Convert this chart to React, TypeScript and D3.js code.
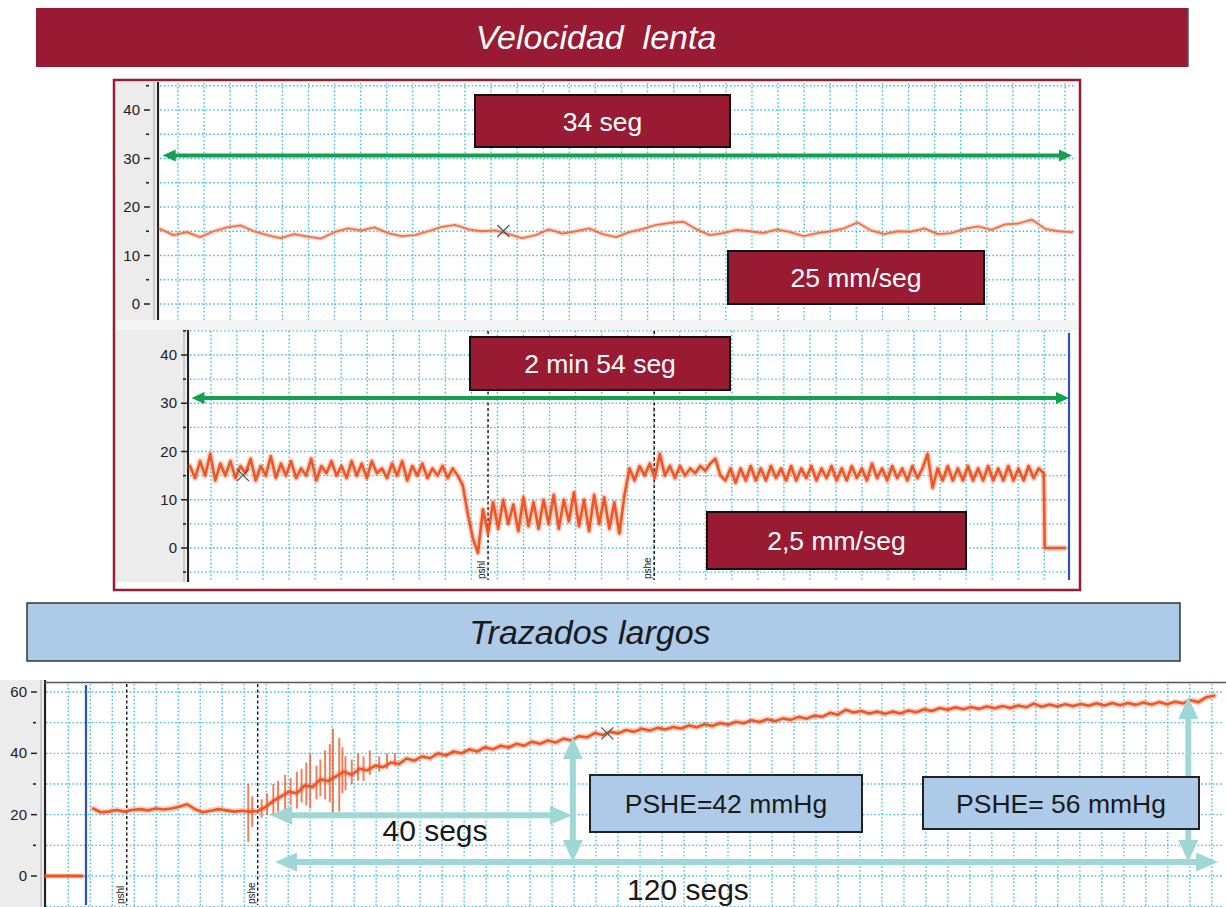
import React from 'react';
import * as d3 from 'd3';

// top strip, 25 mm/seg: one value every 0.5 s (mmHg)
const topTrace = [
  15.5, 14.2, 14.8, 13.8, 15.0, 15.8, 16.2, 15.0, 14.2, 13.6, 14.4, 13.9, 13.5, 14.8, 15.6, 15.2,
  15.8, 14.6, 14.0, 14.2, 15.0, 15.9, 16.3, 15.4, 15.0, 15.2, 14.4, 13.6, 14.2, 15.4, 14.5, 15.0,
  15.6, 14.4, 13.8, 14.8, 15.5, 16.3, 16.7, 17.0, 15.4, 14.2, 14.6, 15.3, 15.0, 14.6, 15.4, 14.8,
  14.0, 14.6, 15.0, 15.6, 16.8, 15.2, 14.4, 15.0, 14.9, 15.6, 14.4, 14.6, 15.5, 16.0, 15.3, 16.4,
  16.6, 17.4, 15.5, 15.0, 14.8,
];

// middle strip, 2,5 mm/seg: one value per second
const midBasal = [
  17, 14.5, 18, 15, 19.5, 14, 17.5, 15, 18, 14.5, 17, 15.5, 18.5, 14, 17, 15, 19, 14.5, 17.5, 15,
  18, 14.5, 16.5, 15, 18.5, 14, 17, 15.5, 18, 15, 17, 14.5, 18, 15, 17.5, 14.5, 18, 15.5, 16.5, 14.5,
  17.5, 15, 18, 14, 17, 15, 17.5, 14.5, 16.5, 15, 17, 14.5, 16.5, 15,
];
const midPshl = [
  13, 7, 2, -1, 8, 3, 9.5, 4, 10, 5, 9, 3.5, 10.5, 4.5, 9.5, 4, 10, 5, 11, 4, 10, 5.5, 11.5, 4.5,
  10, 3.5, 11, 5, 10.5, 4, 9.5, 3, 11,
];
const midPshe = [
  16.5, 14, 17, 15, 17.5, 14.5, 19.5, 15, 17, 14.5, 17, 15, 16.5, 15.5, 17, 16, 17.5, 18.5, 15, 14,
  16.5, 13.5, 16.5, 14, 17, 14, 16.5, 14, 17, 14.5, 16.5, 14, 17, 14, 16.5, 14.5, 17, 14, 16.5, 14.5,
  17, 14, 16.5, 14, 17, 14.5, 16.5, 14, 17.5, 14.5, 16.5, 14, 17, 14.5, 16.5, 14, 17, 14.5, 16.5, 19.5,
  12.5, 16.5, 14, 17, 14, 16.5, 14, 17, 14, 16.5, 14, 17, 14, 16.5, 14, 17, 14, 16.5, 14, 17,
  14.5, 16.5, 15.5,
];
const midEnd = [0, 0, 0, 0, 0];

// long strip: zero before the catheter, then one value per second from t = 6 s
const longPre: [number, number][] = [[0, 0], [4.6, 0]];
const longStartT = 6;
const longTrace = [
  22, 20.8, 21, 21.5, 21, 21.5, 21.8, 21.4, 22, 21.7, 22, 22.6, 23.4, 21.8, 20.8, 21.3, 21.8, 21.4,
  21, 21.3, 21, 21.2, 22.5,
  24.5, 26, 27.5, 27, 29.5, 29, 31.5, 31, 32.5, 34, 33, 35, 34.5, 36, 35.5, 37, 36.5,
  38.3, 37.6, 39, 38.4, 40, 39.3, 40.6, 40, 41.3, 40.6, 42, 41.3, 42.5, 41.9, 43.1, 42.5, 43.8, 43.1,
  44.2, 43.5, 44.8, 44.2, 45.6, 45.2, 46.6, 46, 47, 46.5, 47.6, 47, 48, 47.4, 48.3, 47.8, 48.6, 48.1,
  49.1, 48.5, 49.5, 48.9, 49.9, 49.3, 50.3, 49.8, 50.8, 50.2, 51.1, 50.5, 51.4, 50.9, 51.9, 51.3,
  52.3, 51.9, 53.2, 52.6, 54.2, 53.3, 53.8, 53, 53.6, 52.9, 53.6, 53, 54, 53.4, 54.4, 53.8, 54.8,
  54.2, 55, 54.4, 55.1, 54.5, 55.3, 54.7, 55.4, 54.8, 55.6, 55, 56.2, 55.2, 55.9, 55.3, 56, 55.4,
  56.1, 55.5, 56.3, 55.6, 56.4, 55.7, 56.4, 55.8, 56.6, 55.9, 56.7, 56, 56.8, 56.3, 57.3, 56.7,
  58.3, 58.8,
];
// artefact spikes on the long strip: [time s, low, high]
const longSpikes: [number, number, number][] = [
  [25.8, 11, 30], [26.3, 16, 26], [27.5, 19, 25], [28.2, 20, 27], [29, 20, 30], [29.6, 21, 31],
  [30.5, 18, 33], [31.2, 23, 32], [32, 22, 34], [32.6, 24, 35], [33.2, 23, 37], [33.7, 22, 40],
  [34.5, 25, 36], [35, 26, 38], [35.6, 25, 41], [36.2, 24, 43], [36.6, 19, 48], [37.4, 21, 45],
  [37.8, 27, 42], [38.2, 28, 39], [39, 30, 38], [39.8, 31, 40], [40.5, 31, 39], [41.3, 33, 41],
  [42.5, 34, 39], [43.5, 35, 40], [44.5, 36, 40],
];

// event marks
const midEvents = [{ t: 59, label: 'pshl' }, { t: 91.9, label: 'pshe' }];
const longEvents = [{ t: 10.3, label: 'pshl' }, { t: 27, label: 'pshe' }];
const topCursor = [12.8, 15.05];
const midCursor = [10.5, 15.1];
const longCursor = [71.6, 46.5];

const topTicks = [0, 10, 20, 30, 40];
const midTicks = [0, 10, 20, 30, 40];
const longTicks = [0, 20, 40, 60];

// ---- scales ----
const topX = d3.scaleLinear().domain([0, 34]).range([160, 1072]);
const topY = d3.scaleLinear().domain([0, 40]).range([304, 110]);
const midX = d3.scaleLinear().domain([0, 174]).range([190, 1069]);
const midY = d3.scaleLinear().domain([0, 40]).range([548, 355]);
const lonX = d3.scaleLinear().domain([0, 150]).range([46, 1222]);
const lonY = d3.scaleLinear().domain([0, 60]).range([876, 692]);

const RED = '#991b33';
const GRID = '#45bfd9';
const TRACE = '#ee5625';
const GREEN = '#14a04c';
const CYAN = '#9fd7d7';
const BLUE = '#adcbe9';
const FONT = '"Liberation Sans", Arial, sans-serif';

type P = [number, number];

function Grid({ x0, x1, y0, y1, xs, ys }: { x0: number; x1: number; y0: number; y1: number; xs: number[]; ys: number[] }) {
  return (
    <g stroke={GRID} strokeWidth={1.4} strokeDasharray="1.6 2.2" fill="none">
      {xs.map((x, i) => <line key={'v' + i} x1={x} x2={x} y1={y0} y2={y1} />)}
      {ys.map((y, i) => <line key={'h' + i} x1={x0} x2={x1} y1={y} y2={y} />)}
    </g>
  );
}

function YAxis({ y, ticks, minors, tickX, y0, y1, bgX, lineX }: {
  y: d3.ScaleLinear<number, number>; ticks: number[]; minors: number[]; tickX: number; y0: number; y1: number; bgX: number; lineX: number;
}) {
  return (
    <g>
      <rect x={bgX} y={y0} width={lineX - bgX - 2} height={y1 - y0} fill="#ececec" />
      <line x1={lineX - 4} x2={lineX - 4} y1={y0} y2={y1} stroke="#aaa" strokeWidth={1} />
      <line x1={lineX} x2={lineX} y1={y0} y2={y1} stroke="#222" strokeWidth={2.2} />
      {ticks.map(t => (
        <g key={t}>
          <text x={tickX - 4} y={y(t) + 5} textAnchor="end" fontSize={15} fontFamily={FONT} fill="#222">{t}</text>
          <line x1={tickX} x2={tickX + 6} y1={y(t)} y2={y(t)} stroke="#222" strokeWidth={1.5} />
        </g>
      ))}
      {minors.map(t => (
        <line key={'m' + t} x1={tickX + 2} x2={tickX + 5} y1={y(t)} y2={y(t)} stroke="#222" strokeWidth={1.6} />
      ))}
    </g>
  );
}

function Trace({ pts, x, y, width, halo, color = TRACE }: {
  pts: P[]; x: d3.ScaleLinear<number, number>; y: d3.ScaleLinear<number, number>; width: number; halo: number; color?: string;
}) {
  const line = d3.line<P>().x(d => x(d[0])).y(d => y(d[1]));
  const d = line(pts) || '';
  return (
    <g fill="none" strokeLinejoin="round" strokeLinecap="round">
      <path d={d} stroke={color} strokeOpacity={0.28} strokeWidth={halo} />
      <path d={d} stroke={color} strokeWidth={width} />
    </g>
  );
}

function Arrow2({ x1, y1, x2, y2, color, w, hl, hw }: { x1: number; y1: number; x2: number; y2: number; color: string; w: number; hl: number; hw: number }) {
  const a = Math.atan2(y2 - y1, x2 - x1);
  const c = Math.cos(a), s = Math.sin(a);
  const head = (px: number, py: number, dir: number) => {
    const bx = px - dir * c * hl, by = py - dir * s * hl;
    return `${px},${py} ${bx - s * hw / 2},${by + c * hw / 2} ${bx + s * hw / 2},${by - c * hw / 2}`;
  };
  return (
    <g fill={color}>
      <line x1={x1 + c * hl * 0.8} y1={y1 + s * hl * 0.8} x2={x2 - c * hl * 0.8} y2={y2 - s * hl * 0.8} stroke={color} strokeWidth={w} />
      <polygon points={head(x2, y2, 1)} />
      <polygon points={head(x1, y1, -1)} />
    </g>
  );
}

function Box({ x, y, w, h, fill, color, text, size, stroke = '#111' }: {
  x: number; y: number; w: number; h: number; fill: string; color: string; text: string; size: number; stroke?: string;
}) {
  return (
    <g>
      <rect x={x} y={y} width={w} height={h} fill={fill} stroke={stroke} strokeWidth={2} />
      <text x={x + w / 2} y={y + h / 2 + size * 0.36} textAnchor="middle" fontSize={size} fontFamily={FONT} fill={color}>{text}</text>
    </g>
  );
}

function Cross({ cx, cy }: { cx: number; cy: number }) {
  const r = 6;
  return (
    <g stroke="#555" strokeWidth={1.3}>
      <line x1={cx - r} y1={cy - r} x2={cx + r} y2={cy + r} />
      <line x1={cx - r} y1={cy + r} x2={cx + r} y2={cy - r} />
    </g>
  );
}

function EventMark({ x, y0, y1, label }: { x: number; y0: number; y1: number; label: string }) {
  return (
    <g>
      <line x1={x} x2={x} y1={y0} y2={y1} stroke="#111" strokeWidth={1.4} strokeDasharray="3 2.5" />
      <text transform={`translate(${x - 3},${y1 - 1}) rotate(-90)`} fontSize={10} fontFamily={FONT} fill="#222">{label}</text>
    </g>
  );
}

export default function App() {
  const topPts: P[] = topTrace.map((v, i) => [i * 0.5, v]);
  const midAll = [...midBasal, ...midPshl, ...midPshe];
  const last = midAll.length - 1;
  // the pressure falls straight to zero when the catheter is withdrawn
  const midPts: P[] = [
    ...midAll.map((v, i): P => [i, v]),
    ...midEnd.map((v, i): P => [last + 0.2 + i, v]),
  ];
  const longPts: P[] = longTrace.map((v, i) => [longStartT + i, v]);

  const topGridX = d3.range(178, 1075, 26.09);
  const topGridY = d3.range(0, 46, 5).map(v => topY(v));
  const midGridX = d3.range(211, 1070, 26.04);
  const midGridY = d3.range(-5, 46, 5).map(v => midY(v));
  const lonGridX = d3.range(68.3, 1222, 21.99);
  const lonGridY = d3.range(-10, 61, 10).map(v => lonY(v));

  return (
    <svg width={1226} height={907} style={{ position: 'absolute', left: 0, top: 0, background: '#fff' }}>
      {/* title 1 */}
      <rect x={36} y={8} width={1152} height={59} fill={RED} />
      <line x1={1188} x2={1188} y1={8} y2={67} stroke="#555" strokeWidth={1.5} />
      <text x={596} y={49} textAnchor="middle" fontSize={34} fontStyle="italic" fontFamily={FONT} fill="#fff" style={{ whiteSpace: 'pre' }}>{'Velocidad  lenta'}</text>

      {/* panel 1 */}
      <rect x={115} y={81} width={964} height={508} fill="#fff" />

      {/* top strip */}
      <Grid x0={160} x1={1076} y0={83} y1={320} xs={topGridX} ys={topGridY} />
      <YAxis y={topY} ticks={topTicks} minors={[5, 15, 25, 35, 45]} tickX={144} y0={82} y1={320} bgX={116} lineX={158} />
      <Trace pts={topPts} x={topX} y={topY} width={1.8} halo={4.5} color="#f07248" />
      <Cross cx={topX(topCursor[0])} cy={topY(topCursor[1])} />
      <Arrow2 x1={topX(0.1)} y1={topY(30.6)} x2={topX(34)} y2={topY(30.6)} color={GREEN} w={4} hl={13} hw={12} />
      <Box x={475} y={95} w={255} h={52} fill={RED} color="#fff" text="34 seg" size={26.5} />
      <Box x={728} y={251} w={256} h={53} fill={RED} color="#fff" text="25 mm/seg" size={26.5} />

      {/* separator */}
      <rect x={116} y={320} width={962} height={10} fill="#f4f4f4" />

      {/* middle strip */}
      <Grid x0={190} x1={1070} y0={331} y1={580} xs={midGridX} ys={midGridY} />
      <YAxis y={midY} ticks={midTicks} minors={[-5, 5, 15, 25, 35, 45]} tickX={181} y0={330} y1={582} bgX={116} lineX={188} />
      {midEvents.map(e => <EventMark key={e.label} x={midX(e.t)} y0={331} y1={580} label={e.label} />)}
      <line x1={midX(174)} x2={midX(174)} y1={333} y2={580} stroke="#2d4fc0" strokeWidth={2.2} />
      <Trace pts={midPts} x={midX} y={midY} width={2.6} halo={6} />
      <Cross cx={midX(midCursor[0])} cy={midY(midCursor[1])} />
      <Arrow2 x1={midX(0.3)} y1={midY(31.1)} x2={midX(174)} y2={midY(31.1)} color={GREEN} w={4} hl={13} hw={12} />
      <Box x={470} y={337} w={260} h={53} fill={RED} color="#fff" text="2 min 54 seg" size={26.5} />
      <Box x={707} y={512} w={259} h={57} fill={RED} color="#fff" text="2,5 mm/seg" size={26.5} />

      <rect x={114} y={80} width={966} height={510} fill="none" stroke={RED} strokeWidth={2.5} />

      {/* title 2 */}
      <rect x={27} y={603} width={1153} height={58} fill={BLUE} stroke="#333" strokeWidth={1.5} />
      <text x={590} y={644} textAnchor="middle" fontSize={34} fontStyle="italic" fontFamily={FONT} fill="#1a1a1a">Trazados largos</text>

      {/* long strip */}
      <Grid x0={46} x1={1224} y0={684} y1={906} xs={lonGridX} ys={lonGridY} />
      <YAxis y={lonY} ticks={longTicks} minors={[10, 30, 50]} tickX={31} y0={680} y1={907} bgX={0} lineX={45} />
      <line x1={44} x2={1226} y1={682.5} y2={682.5} stroke="#555" strokeWidth={1.5} />
      {longEvents.map(e => <EventMark key={e.label} x={lonX(e.t)} y0={684} y1={905} label={e.label} />)}
      <line x1={lonX(5.1)} x2={lonX(5.1)} y1={685} y2={905} stroke="#2d4fc0" strokeWidth={2.2} />
      <Trace pts={longPre} x={lonX} y={lonY} width={3} halo={5} />
      <g stroke={TRACE} strokeWidth={2} strokeOpacity={0.75}>
        {longSpikes.map((s, i) => <line key={i} x1={lonX(s[0])} x2={lonX(s[0])} y1={lonY(s[1])} y2={lonY(s[2])} />)}
      </g>
      <Trace pts={longPts} x={lonX} y={lonY} width={2.6} halo={6} />
      <Cross cx={lonX(longCursor[0])} cy={lonY(longCursor[1])} />

      <Arrow2 x1={lonX(28.6)} y1={lonY(19.8)} x2={lonX(67.1)} y2={lonY(19.8)} color={CYAN} w={6} hl={22} hw={19} />
      <Arrow2 x1={lonX(29.2)} y1={lonY(4.6)} x2={lonX(149.5)} y2={lonY(4.6)} color={CYAN} w={6} hl={22} hw={19} />
      <Arrow2 x1={lonX(67.2)} y1={lonY(45.3)} x2={lonX(67.2)} y2={lonY(4.6)} color={CYAN} w={6} hl={22} hw={20} />
      <Arrow2 x1={lonX(145.7)} y1={lonY(58.4)} x2={lonX(145.7)} y2={lonY(4.6)} color={CYAN} w={6} hl={22} hw={20} />
      <Box x={590} y={775} w={272} h={57} fill={BLUE} color="#1a1a1a" text="PSHE=42 mmHg" size={26.5} stroke="#222" />
      <Box x={923} y={777} w={276} h={52} fill={BLUE} color="#1a1a1a" text="PSHE= 56 mmHg" size={26.5} stroke="#222" />
      <text x={435} y={841} textAnchor="middle" fontSize={30} fontFamily={FONT} fill="#1a1a1a">40 segs</text>
      <text x={688} y={900} textAnchor="middle" fontSize={30} fontFamily={FONT} fill="#1a1a1a">120 segs</text>
    </svg>
  );
}
